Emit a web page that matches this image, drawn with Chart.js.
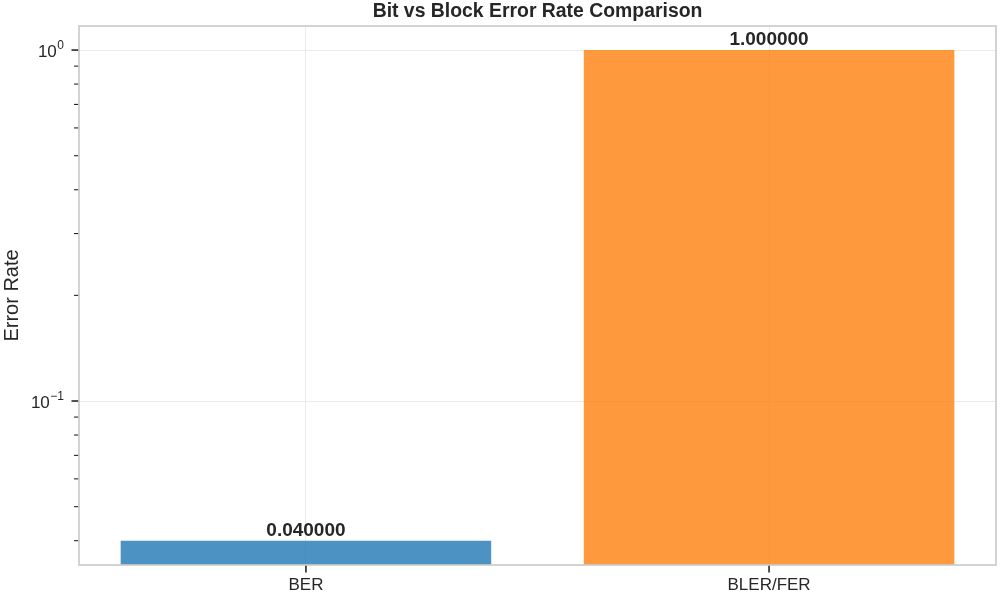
<!DOCTYPE html>
<html>
<head>
<meta charset="utf-8">
<script src="https://cdn.jsdelivr.net/npm/chart.js@4/dist/chart.umd.min.js"></script>
<style>
  html, body { margin: 0; padding: 0; background: #ffffff; }
  canvas { display: block; }
</style>
</head>
<body>
<canvas id="c" width="1000" height="600"></canvas>
<script>
// ---- data ----
const categories = ['BER', 'BLER/FER'];
const errorRates = [0.04, 1.0];
const valueLabels = ['0.040000', '1.000000'];
const barColors = ['rgba(31,119,180,0.8)', 'rgba(255,127,14,0.8)'];
const yMajorTicks = [0.1, 1];
const yMajorLabels = [['10', '\u22121'], ['10', '0']];
const yMinorTicks = [0.04, 0.05, 0.06, 0.07, 0.08, 0.09, 0.2, 0.3, 0.4, 0.5, 0.6, 0.7, 0.8, 0.9];
const yMin = 0.0341, yMax = 1.171;
const xMin = -0.49, xMax = 1.49;
const titleText = 'Bit vs Block Error Rate Comparison';
const yTitle = 'Error Rate';

const FONT = '"Liberation Sans", Arial, sans-serif';
const TXT = '#262626';

const drawPlugin = {
  id: 'drawPlugin',
  afterDatasetsDraw(chart) {
    const ctx = chart.ctx;
    const a = chart.chartArea;
    const ys = chart.scales.y, xs = chart.scales.x;
    ctx.save();
    // frame
    ctx.strokeStyle = '#cccccc';
    ctx.lineWidth = 1.7;
    ctx.strokeRect(a.left, a.top, a.right - a.left, a.bottom - a.top);
    // y tick marks
    ctx.strokeStyle = TXT;
    yMajorTicks.forEach(v => {
      const y = ys.getPixelForValue(v);
      ctx.lineWidth = 1.6;
      ctx.beginPath(); ctx.moveTo(a.left - 7.5, y); ctx.lineTo(a.left - 0.8, y); ctx.stroke();
    });
    yMinorTicks.forEach(v => {
      const y = ys.getPixelForValue(v);
      ctx.lineWidth = 1.1;
      ctx.beginPath(); ctx.moveTo(a.left - 5, y); ctx.lineTo(a.left - 0.8, y); ctx.stroke();
    });
    // x tick marks
    categories.forEach((c, i) => {
      const x = xs.getPixelForValue(i);
      ctx.lineWidth = 1.6;
      ctx.beginPath(); ctx.moveTo(x, a.bottom + 0.8); ctx.lineTo(x, a.bottom + 7.5); ctx.stroke();
    });
    // y tick labels with superscripts
    ctx.fillStyle = TXT;
    ctx.textBaseline = 'alphabetic';
    ctx.textAlign = 'right';
    yMajorTicks.forEach((v, i) => {
      const y = ys.getPixelForValue(v);
      const [base, sup] = yMajorLabels[i];
      const rightX = 64;
      ctx.font = '12px ' + FONT;
      const supW = ctx.measureText(sup).width;
      ctx.fillText(sup, rightX, y - 1);
      ctx.font = '17px ' + FONT;
      ctx.fillText(base, rightX - supW - 0.5, y + 6.5);
    });
    // value labels
    ctx.font = 'bold 19px ' + FONT;
    ctx.textAlign = 'center';
    chart.getDatasetMeta(0).data.forEach((bar, i) => {
      ctx.fillText(valueLabels[i], bar.x, bar.y - 5);
    });
    // title
    ctx.font = 'bold 19.4px ' + FONT;
    ctx.fillText(titleText, (a.left + a.right) / 2, 17);
    ctx.restore();
  }
};

new Chart(document.getElementById('c'), {
  type: 'bar',
  data: {
    datasets: [{
      data: categories.map((c, i) => ({ x: i, y: errorRates[i] })),
      backgroundColor: barColors,
      borderWidth: 0,
      barPercentage: 0.8,
      categoryPercentage: 1.0
    }]
  },
  options: {
    responsive: false,
    animation: false,
    devicePixelRatio: 1,
    layout: { padding: { top: 26, right: 4, left: 0, bottom: 0 } },
    plugins: { legend: { display: false }, tooltip: { enabled: false }, title: { display: false } },
    scales: {
      x: {
        type: 'linear',
        min: xMin, max: xMax,
        offset: false,
        afterBuildTicks: s => { s.ticks = categories.map((c, i) => ({ value: i })); },
        afterFit: s => { s.height = 35; },
        grid: { color: '#ebebeb', lineWidth: 1, drawTicks: true, tickLength: 7, tickColor: 'rgba(0,0,0,0)', offset: false },
        border: { display: false },
        ticks: {
          color: TXT, font: { family: FONT, size: 17 }, padding: 3,
          maxRotation: 0, autoSkip: false,
          callback: v => categories[v] !== undefined ? categories[v] : ''
        }
      },
      y: {
        type: 'logarithmic',
        min: yMin, max: yMax,
        afterBuildTicks: s => { s.ticks = yMajorTicks.concat(yMinorTicks).sort((p, q) => p - q).map(v => ({ value: v })); },
        afterFit: s => { s.width = 79; },
        grid: {
          color: c => (c.tick && yMajorTicks.includes(c.tick.value)) ? '#ebebeb' : 'rgba(0,0,0,0)',
          lineWidth: 1, drawTicks: false
        },
        border: { display: false },
        ticks: { display: false, autoSkip: false },
        title: {
          display: true, text: yTitle, color: TXT,
          font: { family: FONT, size: 20 }, padding: { top: 0, bottom: 0 }
        }
      }
    }
  },
  plugins: [drawPlugin]
});
</script>
</body>
</html>
